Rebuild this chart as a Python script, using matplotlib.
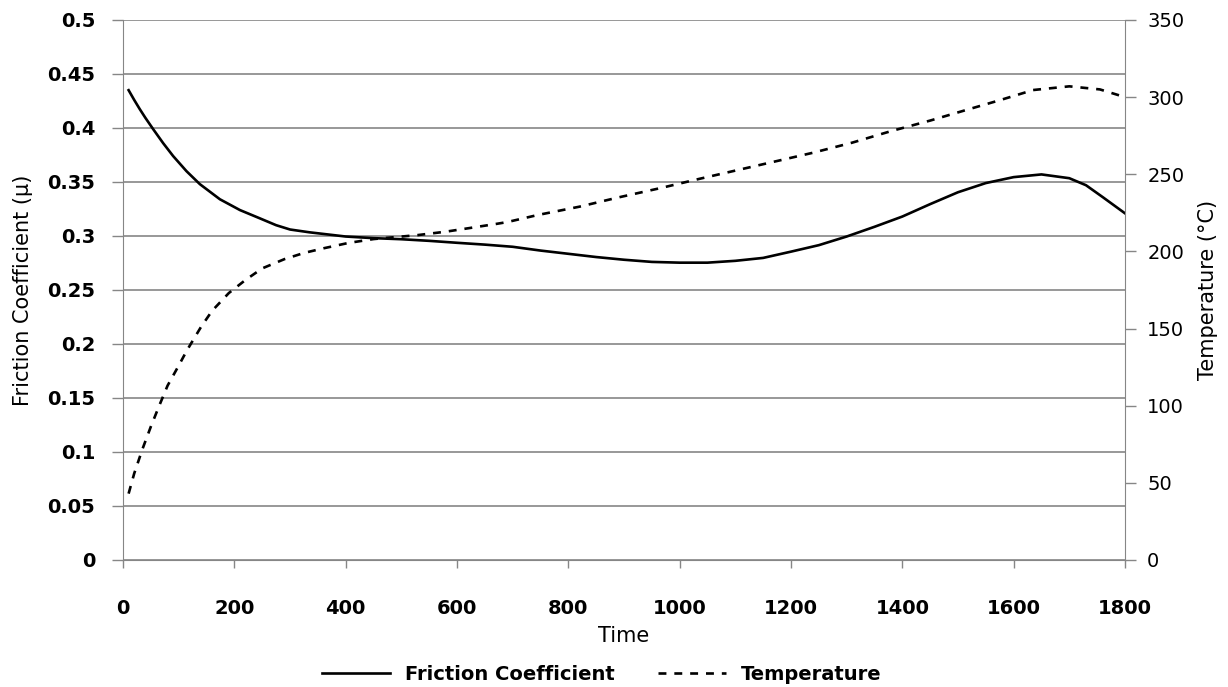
import numpy as np
import matplotlib.pyplot as plt

# friction coefficient curve (left axis)
time_friction = [10, 20, 30, 40, 54, 72, 90, 114, 138, 174, 210, 245, 275,
                 300, 335, 375, 400, 450, 500, 550, 600, 650, 700, 750, 800,
                 850, 900, 950, 1000, 1050, 1100, 1150, 1200, 1250, 1300, 1350,
                 1400, 1450, 1500, 1550, 1600, 1650, 1700, 1730, 1760, 1800]
friction = [0.435, 0.426, 0.4175, 0.4095, 0.399, 0.386, 0.374, 0.360, 0.348,
            0.334, 0.324, 0.3165, 0.310, 0.306, 0.3034, 0.301, 0.2995, 0.298,
            0.297, 0.2955, 0.2937, 0.292, 0.290, 0.2865, 0.2835, 0.2805,
            0.278, 0.276, 0.2753, 0.2753, 0.277, 0.2797, 0.2855, 0.2915,
            0.2995, 0.3085, 0.318, 0.3295, 0.3405, 0.349, 0.3545, 0.357,
            0.3535, 0.347, 0.336, 0.321]

# temperature in degC (right axis)
time_temp = [10, 20, 35, 50, 65, 80, 100, 115, 140, 160, 190, 220, 250, 290,
             325, 360, 405, 450, 530, 580, 620, 670, 690, 745, 820, 890, 965,
             1035, 1105, 1175, 1240, 1310, 1380, 1450, 1515, 1575, 1635, 1700,
             1755, 1800]
temperature = [43, 56, 72, 86.5, 100, 113, 126, 136, 151, 161.5, 173, 181.5,
               189, 195, 199, 202, 205.5, 208, 210.6, 212.8, 215, 217.8, 219,
               223.6, 229, 235, 241, 247, 252.8, 258.6, 264, 270.5, 278, 284.8,
               291.7, 298, 304.6, 307, 305, 300]

left_ticks = [0, 0.05, 0.1, 0.15, 0.2, 0.25, 0.3, 0.35, 0.4, 0.45, 0.5]
left_labels = ['0', '0.05', '0.1', '0.15', '0.2', '0.25', '0.3', '0.35', '0.4', '0.45', '0.5']
right_ticks = [0, 50, 100, 150, 200, 250, 300, 350]
x_ticks = [0, 200, 400, 600, 800, 1000, 1200, 1400, 1600, 1800]

grey = '#868686'

fig = plt.figure(figsize=(12.28, 6.87), dpi=100)
ax = fig.add_axes([0.1002, 0.1849, 0.8159, 0.786])
ax2 = ax.twinx()

ax.set_xlim(0, 1800)
ax.set_ylim(0, 0.5)
ax2.set_ylim(0, 350)

# horizontal gridlines
ax.set_yticks(left_ticks)
ax.set_yticklabels(left_labels)
ax.yaxis.grid(True, color=grey, linewidth=1.2)
ax.set_axisbelow(True)

l1, = ax.plot(time_friction, friction, color='black', linewidth=1.9,
              label='Friction Coefficient')
l2, = ax2.plot(time_temp, temperature, color='black', linewidth=1.9,
               linestyle=(0, (3, 3)), label='Temperature')

ax.set_xticks(x_ticks)
ax2.set_yticks(right_ticks)

for a in (ax, ax2):
    for s in a.spines.values():
        s.set_color(grey)
    a.spines['top'].set_visible(False)
ax.spines['right'].set_visible(False)
ax2.spines['left'].set_visible(False)
ax2.spines['bottom'].set_visible(False)

ax.tick_params(axis='y', direction='out', length=8, color=grey, width=1,
               labelsize=14, pad=12)
ax.tick_params(axis='x', direction='out', length=6, color=grey, width=1,
               labelsize=14, pad=22)
ax2.tick_params(axis='y', direction='out', length=8, color=grey, width=1,
                labelsize=14, pad=8)
for lab in ax.get_yticklabels() + ax.get_xticklabels():
    lab.set_fontweight('bold')

ax.set_xlabel('Time', fontsize=15, labelpad=6)
ax.set_ylabel('Friction Coefficient (\u03bc)', fontsize=15, labelpad=10)
ax2.set_ylabel('Temperature (\u00b0C)', fontsize=15, labelpad=10)

fig.legend(handles=[l1, l2], loc='center', bbox_to_anchor=(0.49, 0.018),
           ncol=2, frameon=False, handlelength=3.5, columnspacing=2.2,
           prop={'size': 14, 'weight': 'bold'})

fig.savefig('out.png', dpi=100)
